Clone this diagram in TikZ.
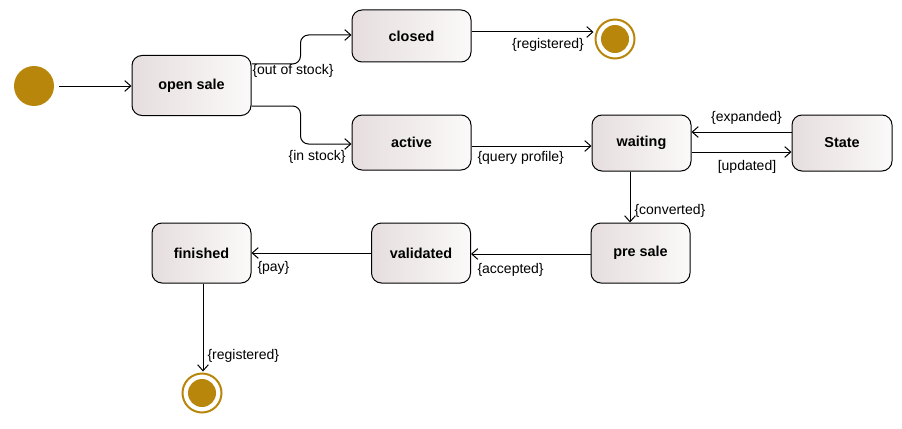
\documentclass[tikz,border=0pt]{standalone}
\usepackage{fontspec}
\setmainfont{Liberation Sans}
\usepackage{tikz}
\usetikzlibrary{arrows.meta, calc}
\definecolor{goldcolor}{RGB}{184,134,11}
\definecolor{stateleft}{RGB}{230,222,222}
\definecolor{stateright}{RGB}{251,249,249}

\begin{document}
\begin{tikzpicture}[x=0.75pt, y=-0.75pt, line width=0.75pt,
  >={Straight Barb[length=4.5pt, width=8pt]},
  state/.style={draw, rounded corners=7.5pt, left color=stateleft, right color=stateright,
    font=\fontsize{10.8}{13}\selectfont\bfseries, minimum width=74.25pt, minimum height=45pt, inner sep=0pt},
  guard/.style={font=\fontsize{10.5}{12}\selectfont, inner sep=0pt},
  initial/.style={circle, fill=goldcolor, minimum size=30pt, inner sep=0pt},
  final/.style={circle, draw=goldcolor, line width=1.5pt, fill=white, minimum size=29.25pt,
    inner sep=0pt, path picture={\fill[goldcolor] (path picture bounding box.center) circle (10.5pt);}}]

\useasboundingbox (0,0) rectangle (902,428);

% States
\node[initial] (start) at (34,86) {};
\node[state, minimum width=89.25pt] (open) at (191.5,85.5) {open sale};
\node[state, minimum width=89.25pt, minimum height=39pt] (closed) at (411.5,36) {closed};
\node[final] (end1) at (615,39) {};
\node[state, minimum width=89.25pt, minimum height=41.25pt] (active) at (411.5,142.5) {active};
\node[state, minimum height=42pt] (waiting) at (641.5,143) {waiting};
\node[state, minimum width=75pt, minimum height=42pt] (extra) at (842,143) {State};
\node[state] (presale) at (640.5,253) {pre sale};
\node[state] (validated) at (421,253) {validated};
\node[state] (finished) at (201.5,253) {finished};
\node[final] (end2) at (202,393) {};

% Start
\draw[->, shorten <=3pt] (start) -- (start -| open.west);

% Open sale branches
\draw[->, rounded corners=6pt] ($(open.east)+(0,-21.5)$) -- ++(49,0) |- ($(closed.west)+(0,-1)$);
\node[guard, anchor=west] (outstock) at (252,71) {\{out of stock\}};
\draw[->, rounded corners=6pt] ($(open.east)+(0,20.5)$) -- ++(49,0) |- ($(active.west)+(0,1.5)$);
\node[guard, anchor=east] (instock) at (346,157) {\{in stock\}};

% Closed
\draw[->] ($(closed.east)+(0,-4)$) -- ($(end1.west)+(-1,-7)$);
\node[guard] (reg1) at (548,45) {\{registered\}};

% Active and waiting
\draw[->] ($(active.east)+(0,3.5)$) -- ($(waiting.west)+(0,3)$);
\node[guard, anchor=west] (query) at (477,158) {\{query profile\}};
\draw[->] ($(extra.west)+(0,-11)$) -- ($(waiting.east)+(0,-11)$);
\node[guard] (expanded) at (746.5,118) {\{expanded\}};
\draw[->] ($(waiting.east)+(0,9)$) -- ($(extra.west)+(0,9)$);
\node[guard] (updated) at (747,167) {[updated]};
\draw[->] ($(waiting.south)+(-11.5,0)$) -- ($(presale.north)+(-10.5,0)$);
\node[guard, anchor=west] (converted) at (634,211) {\{converted\}};

% Bottom row
\draw[->] ($(presale.west)+(0,1)$) -- ($(validated.east)+(0,1)$);
\node[guard, anchor=west] (accepted) at (477,270) {\{accepted\}};
\draw[->] (validated) -- (finished);
\node[guard, anchor=west] (pay) at (257,268) {\{pay\}};
\draw[->] ($(finished.south)+(1.5,0)$) -- ($(end2.north)+(1,-1)$);
\node[guard, anchor=west] (reg2) at (207,356) {\{registered\}};

\end{tikzpicture}
\end{document}
